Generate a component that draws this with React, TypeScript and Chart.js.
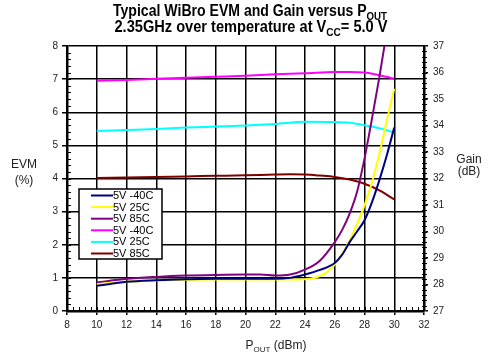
import React, { useEffect, useRef } from "react";
import { Chart, registerables } from "chart.js";

Chart.register(...registerables);

// ---- data ----
const EVM_X_BLUE = [10, 12, 14, 16, 18, 20, 22, 23, 24, 25, 26, 26.5, 27, 27.5, 28, 28.5, 29, 29.5, 30];
const EVM_BLUE = [0.76, 0.88, 0.93, 0.96, 0.97, 0.97, 0.97, 1.0, 1.1, 1.24, 1.45, 1.7, 2.08, 2.4, 2.74, 3.28, 3.95, 4.7, 5.54];

const EVM_X_YELLOW = [10, 12, 14, 16, 18, 20, 22, 24, 24.8, 25.4, 26, 26.5, 27, 27.5, 28, 28.5, 29, 29.5, 30];
const EVM_YELLOW = [0.81, 0.88, 0.92, 0.94, 0.95, 0.95, 0.95, 0.96, 1.02, 1.15, 1.4, 1.72, 2.13, 2.63, 3.19, 3.88, 4.75, 5.75, 6.71];

const EVM_X_PURPLE = [10, 12, 14, 16, 18, 20, 21, 22, 23, 24, 25, 26, 26.5, 27, 27.5, 28, 28.5, 29, 29.5, 30];
const EVM_PURPLE = [0.86, 0.97, 1.03, 1.07, 1.09, 1.1, 1.1, 1.07, 1.1, 1.25, 1.52, 2.08, 2.45, 2.94, 3.6, 4.6, 5.8, 7.06, 8.45, 9.9];

const GAIN_X = [10, 12, 14, 16, 18, 20, 22, 24, 26, 27, 28, 29, 30];
const GAIN_M40 = [35.69, 35.72, 35.76, 35.8, 35.84, 35.88, 35.93, 35.97, 36.02, 36.02, 36.0, 35.9, 35.77];
const GAIN_25 = [33.79, 33.83, 33.87, 33.92, 33.96, 34.0, 34.06, 34.14, 34.13, 34.1, 34.01, 33.9, 33.73];
const GAIN_X_85 = [10, 12, 14, 16, 18, 20, 22, 23, 24, 25, 26, 27, 28, 29, 30];
const GAIN_85 = [32.02, 32.04, 32.06, 32.08, 32.1, 32.12, 32.15, 32.16, 32.15, 32.11, 32.06, 31.96, 31.8, 31.55, 31.21];

const SERIES_LABELS = ["5V -40C", "5V 25C", "5V 85C", "5V -40C", "5V 25C", "5V 85C"];
const SERIES_COLORS = ["#000080", "#FFFF00", "#800080", "#FF00FF", "#00FFFF", "#800000"];

const X_MIN = 8, X_MAX = 32, X_STEP = 2, X_MINOR = 0.4;
const EVM_MIN = 0, EVM_MAX = 8, EVM_STEP = 1, EVM_MINOR = 0.2;
const GAIN_MIN = 27, GAIN_MAX = 37, GAIN_STEP = 1, GAIN_MINOR = 0.2;

const TITLE_1 = [{ t: "Typical WiBro EVM and Gain versus P" }, { t: "OUT", sub: true }];
const TITLE_2 = [{ t: "2.35GHz over temperature at V" }, { t: "CC", sub: true }, { t: "= 5.0 V" }];
const X_TITLE = [{ t: "P" }, { t: "OUT", sub: true }, { t: " (dBm)" }];
const Y_TITLE = ["EVM", "(%)"];
const Y2_TITLE = ["Gain", "(dB)"];

const pts = (xs: number[], ys: number[]) => xs.map((x, i) => ({ x, y: ys[i] }));

const SANS = '"Liberation Sans", Arial, sans-serif';

type Part = { t: string; sub?: boolean };

function drawRich(
  ctx: CanvasRenderingContext2D,
  parts: Part[],
  cx: number,
  base: number,
  size: number,
  weight: string,
  family: string,
  fitWidth?: number
) {
  const fontFor = (p: Part) => `${weight} ${p.sub ? Math.round(size * 0.66) : size}px ${family}`;
  let total = 0;
  for (const p of parts) {
    ctx.font = fontFor(p);
    total += ctx.measureText(p.t).width;
  }
  const sx = fitWidth ? fitWidth / total : 1;
  ctx.save();
  ctx.translate(cx - (total * sx) / 2, base);
  ctx.scale(sx, 1);
  ctx.textAlign = "left";
  ctx.textBaseline = "alphabetic";
  let x = 0;
  for (const p of parts) {
    ctx.font = fontFor(p);
    ctx.fillText(p.t, x, p.sub ? size * 0.22 : 0);
    x += ctx.measureText(p.t).width;
  }
  ctx.restore();
}

const decor = {
  id: "decor",
  afterDraw(chart: any) {
    const ctx: CanvasRenderingContext2D = chart.ctx;
    const ca = chart.chartArea;
    const xs = chart.scales.x, ys = chart.scales.y, y2 = chart.scales.y2;
    ctx.save();
    ctx.strokeStyle = "#000";
    ctx.lineWidth = 1;
    ctx.beginPath();
    const nx = Math.round((X_MAX - X_MIN) / X_MINOR);
    for (let i = 1; i < nx; i++) {
      const px = Math.round(xs.getPixelForValue(X_MIN + i * X_MINOR)) + 0.5;
      ctx.moveTo(px, ca.bottom);
      ctx.lineTo(px, ca.bottom - 4);
    }
    const ny = Math.round((EVM_MAX - EVM_MIN) / EVM_MINOR);
    for (let i = 1; i < ny; i++) {
      const py = Math.round(ys.getPixelForValue(EVM_MIN + i * EVM_MINOR)) + 0.5;
      ctx.moveTo(ca.left, py);
      ctx.lineTo(ca.left + 4, py);
    }
    const ng = Math.round((GAIN_MAX - GAIN_MIN) / GAIN_MINOR);
    for (let i = 1; i < ng; i++) {
      const py = Math.round(y2.getPixelForValue(GAIN_MIN + i * GAIN_MINOR)) + 0.5;
      ctx.moveTo(ca.right - 2, py);
      ctx.lineTo(ca.right + 3, py);
    }
    ctx.stroke();

    // legend box
    const bx = ca.left + 12, by = ca.top + 143, bw = 83, bh = 70;
    ctx.fillStyle = "#fff";
    ctx.fillRect(bx, by, bw, bh);
    ctx.lineWidth = 1.5;
    ctx.strokeStyle = "#000";
    ctx.strokeRect(bx, by, bw, bh);
    ctx.font = `11px ${SANS}`;
    ctx.textAlign = "left";
    ctx.textBaseline = "middle";
    chart.data.datasets.forEach((ds: any, i: number) => {
      const ry = by + 6.5 + i * 11.6;
      ctx.strokeStyle = ds.borderColor;
      ctx.lineWidth = 2;
      ctx.beginPath();
      ctx.moveTo(bx + 12, ry);
      ctx.lineTo(bx + 34, ry);
      ctx.stroke();
      ctx.fillStyle = "#000";
      ctx.fillText(ds.label, bx + 34, ry + 0.5);
    });

    // titles
    ctx.fillStyle = "#000";
    drawRich(ctx, TITLE_1, 250, 16, 16, "bold", SANS, 274);
    drawRich(ctx, TITLE_2, 251, 32, 16, "bold", SANS, 273);
    ctx.fillStyle = "#222";
    drawRich(ctx, X_TITLE, 276, 349, 12, "normal", SANS);
    ctx.font = `12px ${SANS}`;
    ctx.textAlign = "center";
    ctx.textBaseline = "alphabetic";
    ctx.fillText(Y_TITLE[0], 24, 168);
    ctx.fillText(Y_TITLE[1], 24, 184);
    ctx.fillText(Y2_TITLE[0], 469, 163);
    ctx.fillText(Y2_TITLE[1], 469, 175);
    ctx.restore();
  },
};

export default function App() {
  const ref = useRef<HTMLCanvasElement>(null);
  useEffect(() => {
    if (!ref.current) return;
    const mk = (i: number, data: any[], axis: string) => ({
      label: SERIES_LABELS[i],
      data,
      yAxisID: axis,
      borderColor: SERIES_COLORS[i],
      backgroundColor: SERIES_COLORS[i],
      borderWidth: 2,
      pointRadius: 0,
      cubicInterpolationMode: "monotone" as const,
      fill: false,
    });
    const tickFont = { size: 10, family: SANS };
    const chart = new Chart(ref.current, {
      type: "line",
      data: {
        datasets: [
          mk(0, pts(EVM_X_BLUE, EVM_BLUE), "y"),
          mk(1, pts(EVM_X_YELLOW, EVM_YELLOW), "y"),
          mk(2, pts(EVM_X_PURPLE, EVM_PURPLE), "y"),
          mk(3, pts(GAIN_X, GAIN_M40), "y2"),
          mk(4, pts(GAIN_X, GAIN_25), "y2"),
          mk(5, pts(GAIN_X_85, GAIN_85), "y2"),
        ],
      },
      options: {
        responsive: false,
        animation: false,
        layout: { padding: { top: 46, left: 0, right: 0, bottom: 0 } },
        plugins: { legend: { display: false }, title: { display: false }, tooltip: { enabled: false } },
        scales: {
          x: {
            type: "linear",
            min: X_MIN,
            max: X_MAX,
            ticks: { stepSize: X_STEP, font: tickFont, color: "#222", padding: 4, maxRotation: 0 },
            grid: { color: "#000", lineWidth: 1.5, tickLength: 4 },
            border: { color: "#000", width: 2.5 },
            afterFit: (s: any) => { s.height = 48; },
          },
          y: {
            position: "left",
            min: EVM_MIN,
            max: EVM_MAX,
            ticks: { stepSize: EVM_STEP, font: tickFont, color: "#222", padding: 4 },
            grid: { color: "#000", lineWidth: 1.5, tickLength: 5 },
            border: { color: "#000", width: 2.5 },
            afterFit: (s: any) => { s.width = 67; },
          },
          y2: {
            position: "right",
            min: GAIN_MIN,
            max: GAIN_MAX,
            ticks: { stepSize: GAIN_STEP, font: tickFont, color: "#222", padding: 5 },
            grid: { drawOnChartArea: false, color: "#000", lineWidth: 1.5, tickLength: 4 },
            border: { color: "#000", width: 2.5 },
            afterFit: (s: any) => { s.width = 73; },
          },
        },
      },
      plugins: [decor],
    });
    return () => chart.destroy();
  }, []);
  return (
    <div style={{ position: "fixed", left: 0, top: 0, width: 497, height: 359, background: "#fff" }}>
      <canvas ref={ref} width={497} height={359} style={{ display: "block" }} />
    </div>
  );
}
